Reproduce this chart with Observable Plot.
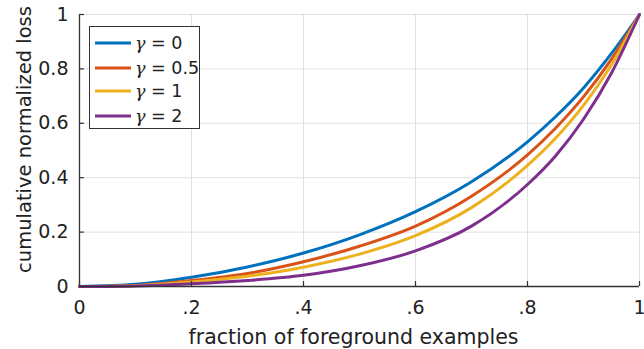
<!DOCTYPE html>
<html>
<head>
<meta charset="utf-8">
<script src="https://cdn.jsdelivr.net/npm/d3@7"></script>
<script src="https://cdn.jsdelivr.net/npm/@observablehq/plot@0.6"></script>
<style>
  html, body { margin: 0; padding: 0; background: #fff; }
  #wrap { position: relative; width: 644px; height: 349px; font-family: "DejaVu Sans", sans-serif; color: #222; }
  #legend { position: absolute; left: 89px; top: 26px; width: 111px; height: 103px; border: 1.3px solid #333; background: #fff; box-sizing: border-box; }
  .row { position: absolute; left: 5px; height: 24px; display: flex; align-items: center; font-size: 17.5px; white-space: nowrap; }
  .row svg { margin-right: 4px; }
  .g { font-family: "DejaVu Serif", "Liberation Serif", serif; font-style: italic; font-size: 17.5px; }
</style>
</head>
<body>
<div id="wrap"></div>
<script>
// ---- data ----
const fraction = [0, 0.1, 0.2, 0.3, 0.4, 0.5, 0.6, 0.7, 0.8, 0.85, 0.9, 0.95, 1];
const lossGamma0   = [0, 0.008, 0.034, 0.072, 0.123, 0.190, 0.275, 0.385, 0.532, 0.624, 0.730, 0.857, 1];
const lossGamma05  = [0, 0.004, 0.022, 0.048, 0.091, 0.148, 0.222, 0.332, 0.484, 0.582, 0.697, 0.836, 1];
const lossGamma1   = [0, 0.003, 0.017, 0.038, 0.071, 0.119, 0.187, 0.290, 0.445, 0.545, 0.666, 0.815, 1];
const lossGamma2   = [0, 0.002, 0.010, 0.022, 0.041, 0.076, 0.131, 0.222, 0.375, 0.480, 0.615, 0.785, 1];
const seriesNames  = ["γ = 0", "γ = 0.5", "γ = 1", "γ = 2"];
const seriesColors = ["#0072BD", "#D95319", "#EDB120", "#7E2F8E"];
const xTicks = [0, 0.2, 0.4, 0.6, 0.8, 1];
const xTickLabels = ["0", ".2", ".4", ".6", ".8", "1"];
const yTicks = [0, 0.2, 0.4, 0.6, 0.8, 1];
const yTickLabels = ["0", "0.2", "0.4", "0.6", "0.8", "1"];
const xLabel = "fraction of foreground examples";
const yLabel = "cumulative normalized loss";

const allSeries = [lossGamma0, lossGamma05, lossGamma1, lossGamma2];
const data = [];
allSeries.forEach((vals, i) => {
  fraction.forEach((x, j) => data.push({series: seriesNames[i], x, y: vals[j]}));
});

// inward tick length (~5px) expressed as a fraction of the axis span
const tickLenX = 5 / 272, tickLenY = 5 / 560;

const chart = Plot.plot({
  width: 644,
  height: 349,
  marginLeft: 79,
  marginRight: 5,
  marginTop: 14,
  marginBottom: 63,
  style: {fontFamily: "DejaVu Sans, sans-serif", fontSize: "19px", color: "#222", background: "#fff", overflow: "visible"},
  x: {type: "linear", domain: [0, 1]},
  y: {type: "linear", domain: [0, 1]},
  color: {domain: seriesNames, range: seriesColors},
  marks: [
    Plot.gridX(xTicks, {stroke: "#e0e0e0", strokeOpacity: 1}),
    Plot.gridY(yTicks, {stroke: "#e0e0e0", strokeOpacity: 1}),
    Plot.axisX(xTicks, {tickSize: 0, tickPadding: 14, tickFormat: (d, i) => xTickLabels[i], fontSize: 19, label: null}),
    Plot.axisY(yTicks, {tickSize: 0, tickPadding: 11, tickFormat: (d, i) => yTickLabels[i], fontSize: 19, label: null}),
    Plot.text([xLabel], {text: d => d, frameAnchor: "bottom", dx: -6, dy: 51, lineAnchor: "middle", textAnchor: "middle", fontSize: 20.5, fill: "#222"}),
    Plot.text([yLabel], {text: d => d, frameAnchor: "left", rotate: -90, dx: -55, dy: -11, lineAnchor: "middle", textAnchor: "middle", fontSize: 19.5, fill: "#222"}),
    Plot.line(data, {x: "x", y: "y", stroke: "series", z: "series", strokeWidth: 3, curve: "monotone-x"}),
    Plot.ruleX(xTicks, {x: d => d, y1: 0, y2: tickLenX, stroke: "#333", strokeWidth: 1.2}),
    Plot.ruleY(yTicks, {y: d => d, x1: 0, x2: tickLenY, stroke: "#333", strokeWidth: 1.2}),
    Plot.ruleX([0], {stroke: "#333", strokeWidth: 1.3}),
    Plot.ruleY([0], {stroke: "#333", strokeWidth: 1.3})
  ]
});
document.getElementById("wrap").appendChild(chart);

// legend (HTML overlay)
const legend = document.createElement("div");
legend.id = "legend";
const rowCenters = [15.5, 40.5, 63.5, 88.5];
seriesNames.forEach((name, i) => {
  const row = document.createElement("div");
  row.className = "row";
  row.style.top = (rowCenters[i] - 12) + "px";
  const parts = name.split(" ");
  row.innerHTML = `<svg width="36" height="6"><line x1="0" y1="3" x2="36" y2="3" stroke="${seriesColors[i]}" stroke-width="3"/></svg><span class="g">${parts[0]}</span>&nbsp;${parts.slice(1).join(" ")}`;
  legend.appendChild(row);
});
document.getElementById("wrap").appendChild(legend);
</script>
</body>
</html>
